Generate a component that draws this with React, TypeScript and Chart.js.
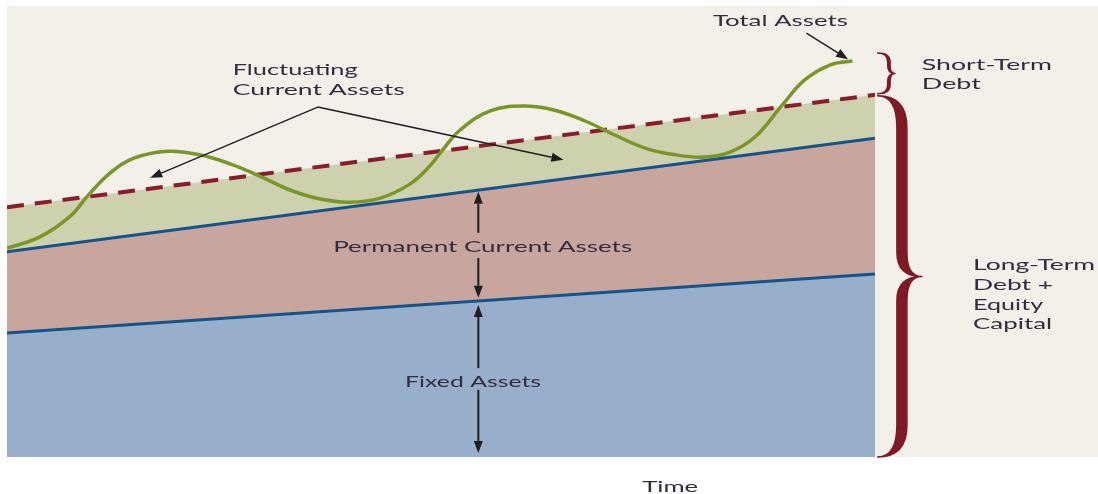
import React, { useEffect, useRef } from "react";
import { Chart, registerables } from "chart.js";

Chart.register(...registerables);

// Time runs from 0 to 100; asset values are in relative units.
const lineTimes = [0, 100];
const fixedAssets = [27.5, 40.6];
const permanentCurrentTop = [45.5, 70.7];
const longTermFinancingTop = [55.4, 80.3];

const totalTimes = [
  0, 3.8, 7.3, 9.3, 11.9, 14.7, 18.5, 22.2, 25.7, 29.1, 32.6, 36.1, 39.5, 43.0,
  46.4, 48.7, 50.2, 52.2, 55.6, 59.4, 63.1, 66.6, 70.0, 73.5, 77.0, 80.4, 83.3,
  86.2, 89.3, 91.9, 94.8, 97.4,
];
const totalAssets = [
  46.3, 48.8, 53.4, 57.9, 63.0, 66.3, 67.8, 67.0, 65.0, 62.3, 59.2, 57.2, 56.5,
  57.4, 60.5, 64.5, 68.1, 72.5, 76.7, 77.8, 76.9, 74.5, 71.4, 68.5, 67.0, 66.5,
  67.6, 71.0, 78.0, 83.6, 86.9, 87.8,
];

const TEXT_COLOR = "#312c40";
const ARROW_COLOR = "#1e1e22";
const BRACE_COLOR = "#7d1a26";
const FONT = "16px Lato, 'Open Sans', sans-serif";

type Label = { text: string; x: number; y: number; w: number; align: CanvasTextAlign };

// Label anchors in (time, value) coordinates; w is the rendered text width in px.
const labels: Label[] = [
  { text: "Fluctuating", x: 26.0, y: 85.8, w: 125, align: "left" },
  { text: "Current Assets", x: 26.0, y: 81.4, w: 172, align: "left" },
  { text: "Total Assets", x: 89.1, y: 96.7, w: 135, align: "center" },
  { text: "Short-Term", x: 105.4, y: 86.9, w: 130, align: "left" },
  { text: "Debt", x: 105.4, y: 82.7, w: 59, align: "left" },
  { text: "Permanent Current Assets", x: 54.8, y: 46.6, w: 299, align: "center" },
  { text: "Fixed Assets", x: 53.7, y: 16.6, w: 136, align: "center" },
  { text: "Long-Term", x: 111.3, y: 42.6, w: 122, align: "left" },
  { text: "Debt +", x: 111.3, y: 38.1, w: 80, align: "left" },
  { text: "Equity", x: 111.3, y: 33.7, w: 70, align: "left" },
  { text: "Capital", x: 111.3, y: 29.5, w: 79, align: "left" },
  { text: "Time", x: 76.4, y: -6.65, w: 56, align: "center" },
];

// Arrows: [fromX, fromY, toX, toY] in (time, value) coordinates, head at "to".
const arrows: number[][] = [
  [35.8, 77.6, 16.5, 61.9],
  [35.8, 77.6, 64.1, 65.9],
  [92.1, 94.0, 96.9, 88.2],
  [54.3, 49.7, 54.3, 58.8],
  [54.3, 44.1, 54.3, 35.3],
  [54.3, 19.7, 54.3, 33.7],
  [54.3, 14.9, 54.3, 0.9],
];

function drawArrow(ctx: CanvasRenderingContext2D, x1: number, y1: number, x2: number, y2: number, lw: number) {
  const ang = Math.atan2(y2 - y1, x2 - x1);
  const headLen = 12;
  const headHalf = 4.5;
  const bx = x2 - headLen * Math.cos(ang);
  const by = y2 - headLen * Math.sin(ang);
  ctx.strokeStyle = ARROW_COLOR;
  ctx.fillStyle = ARROW_COLOR;
  ctx.lineWidth = lw;
  ctx.beginPath();
  ctx.moveTo(x1, y1);
  ctx.lineTo(bx, by);
  ctx.stroke();
  ctx.beginPath();
  ctx.moveTo(x2, y2);
  ctx.lineTo(bx + headHalf * Math.sin(ang), by - headHalf * Math.cos(ang));
  ctx.lineTo(bx - headHalf * Math.sin(ang), by + headHalf * Math.cos(ang));
  ctx.closePath();
  ctx.fill();
}

function drawBrace(
  ctx: CanvasRenderingContext2D,
  xEnd: number, xArm: number, xTip: number,
  yTop: number, yBot: number,
  half: number, ry: number, ryMid: number
) {
  const yMid = (yTop + yBot) / 2;
  const r = xArm + half;
  const l = xArm - half;
  ctx.fillStyle = BRACE_COLOR;
  ctx.strokeStyle = BRACE_COLOR;
  ctx.lineWidth = 1.5;
  ctx.lineJoin = "round";
  ctx.beginPath();
  ctx.moveTo(xEnd, yTop);
  ctx.quadraticCurveTo(r, yTop, r, yTop + ry);
  ctx.lineTo(r, yMid - ryMid);
  ctx.quadraticCurveTo(r, yMid, xTip, yMid);
  ctx.quadraticCurveTo(r, yMid, r, yMid + ryMid);
  ctx.lineTo(r, yBot - ry);
  ctx.quadraticCurveTo(r, yBot, xEnd, yBot);
  ctx.quadraticCurveTo(l, yBot, l, yBot - ry);
  ctx.lineTo(l, yMid + ryMid);
  ctx.quadraticCurveTo(l, yMid, xTip, yMid);
  ctx.quadraticCurveTo(l, yMid, l, yMid - ryMid);
  ctx.lineTo(l, yTop + ry);
  ctx.quadraticCurveTo(l, yTop, xEnd, yTop);
  ctx.closePath();
  ctx.fill();
  ctx.stroke();
}

const decorations = {
  id: "decorations",
  beforeDraw(chart: any) {
    const { ctx, chartArea, width, height } = chart;
    ctx.save();
    ctx.fillStyle = "#ffffff";
    ctx.fillRect(0, 0, width, height);
    ctx.fillStyle = "#f3efe9";
    ctx.fillRect(chartArea.left, chartArea.top, width - chartArea.left, chartArea.bottom - chartArea.top);
    ctx.restore();
  },
  afterDatasetsDraw(chart: any) {
    const { ctx, scales } = chart;
    const px = (v: number) => scales.x.getPixelForValue(v);
    const py = (v: number) => scales.y.getPixelForValue(v);
    ctx.save();

    arrows.forEach(([a, b, c, d], i) => {
      drawArrow(ctx, px(a), py(b), px(c), py(d), i < 3 ? 1.4 : 2);
    });

    // Short-term debt brace: from the top of total assets down to the long-term line.
    drawBrace(ctx, px(100.3), px(101.6), px(102.3), py(89.6), py(longTermFinancingTop[1]) - 1, 1.2, 9, 8);
    // Long-term debt + equity brace: from the long-term line down to the base.
    drawBrace(ctx, px(100.3), px(103.1), px(105.4), py(longTermFinancingTop[1]) + 1, py(0), 5, 32, 24);

    ctx.font = FONT;
    ctx.fillStyle = TEXT_COLOR;
    ctx.textBaseline = "middle";
    labels.forEach((lb) => {
      const w = ctx.measureText(lb.text).width;
      ctx.save();
      ctx.translate(px(lb.x), py(lb.y));
      ctx.scale(lb.w / w, 1);
      ctx.textAlign = lb.align;
      ctx.fillText(lb.text, 0, 0);
      ctx.restore();
    });
    ctx.restore();
  },
};

export default function App() {
  const canvasRef = useRef<HTMLCanvasElement | null>(null);

  useEffect(() => {
    document.body.style.margin = "0";
    const canvas = canvasRef.current;
    if (!canvas) return;
    const pts = (xs: number[], ys: number[]) => xs.map((x, i) => ({ x, y: ys[i] }));

    const chart = new Chart(canvas, {
      type: "line",
      data: {
        datasets: [
          {
            label: "Fixed Assets",
            data: pts(lineTimes, fixedAssets),
            borderColor: "#14548a",
            borderWidth: 3,
            backgroundColor: "#97afca",
            fill: "origin",
            pointRadius: 0,
            order: 3,
          },
          {
            label: "Permanent Current Assets",
            data: pts(lineTimes, permanentCurrentTop),
            borderColor: "#14548a",
            borderWidth: 3,
            backgroundColor: "#c9a69d",
            fill: "-1",
            pointRadius: 0,
            order: 2,
          },
          {
            label: "Long-Term Debt + Equity Capital",
            data: pts(lineTimes, longTermFinancingTop),
            borderColor: "#8a1c2c",
            borderWidth: 4,
            borderDash: [17, 11],
            backgroundColor: "#cdd1ae",
            fill: "-1",
            pointRadius: 0,
            order: 1,
          },
          {
            label: "Total Assets",
            data: pts(totalTimes, totalAssets),
            borderColor: "#7a9628",
            borderWidth: 3.5,
            fill: false,
            pointRadius: 0,
            tension: 0.4,
            order: 0,
          },
        ],
      },
      options: {
        animation: false,
        responsive: false,
        devicePixelRatio: 1,
        layout: { padding: { left: 7, top: 6, right: 223, bottom: 37 } },
        scales: {
          x: { type: "linear", min: 0, max: 100, display: false },
          y: { type: "linear", min: 0, max: 100, display: false },
        },
        plugins: {
          legend: { display: false },
          tooltip: { enabled: false },
          filler: { drawTime: "beforeDatasetsDraw" },
        },
      },
      plugins: [decorations],
    });
    return () => chart.destroy();
  }, []);

  return (
    <div style={{ width: 1098, height: 494 }}>
      <canvas ref={canvasRef} width={1098} height={494} style={{ display: "block" }} />
    </div>
  );
}
